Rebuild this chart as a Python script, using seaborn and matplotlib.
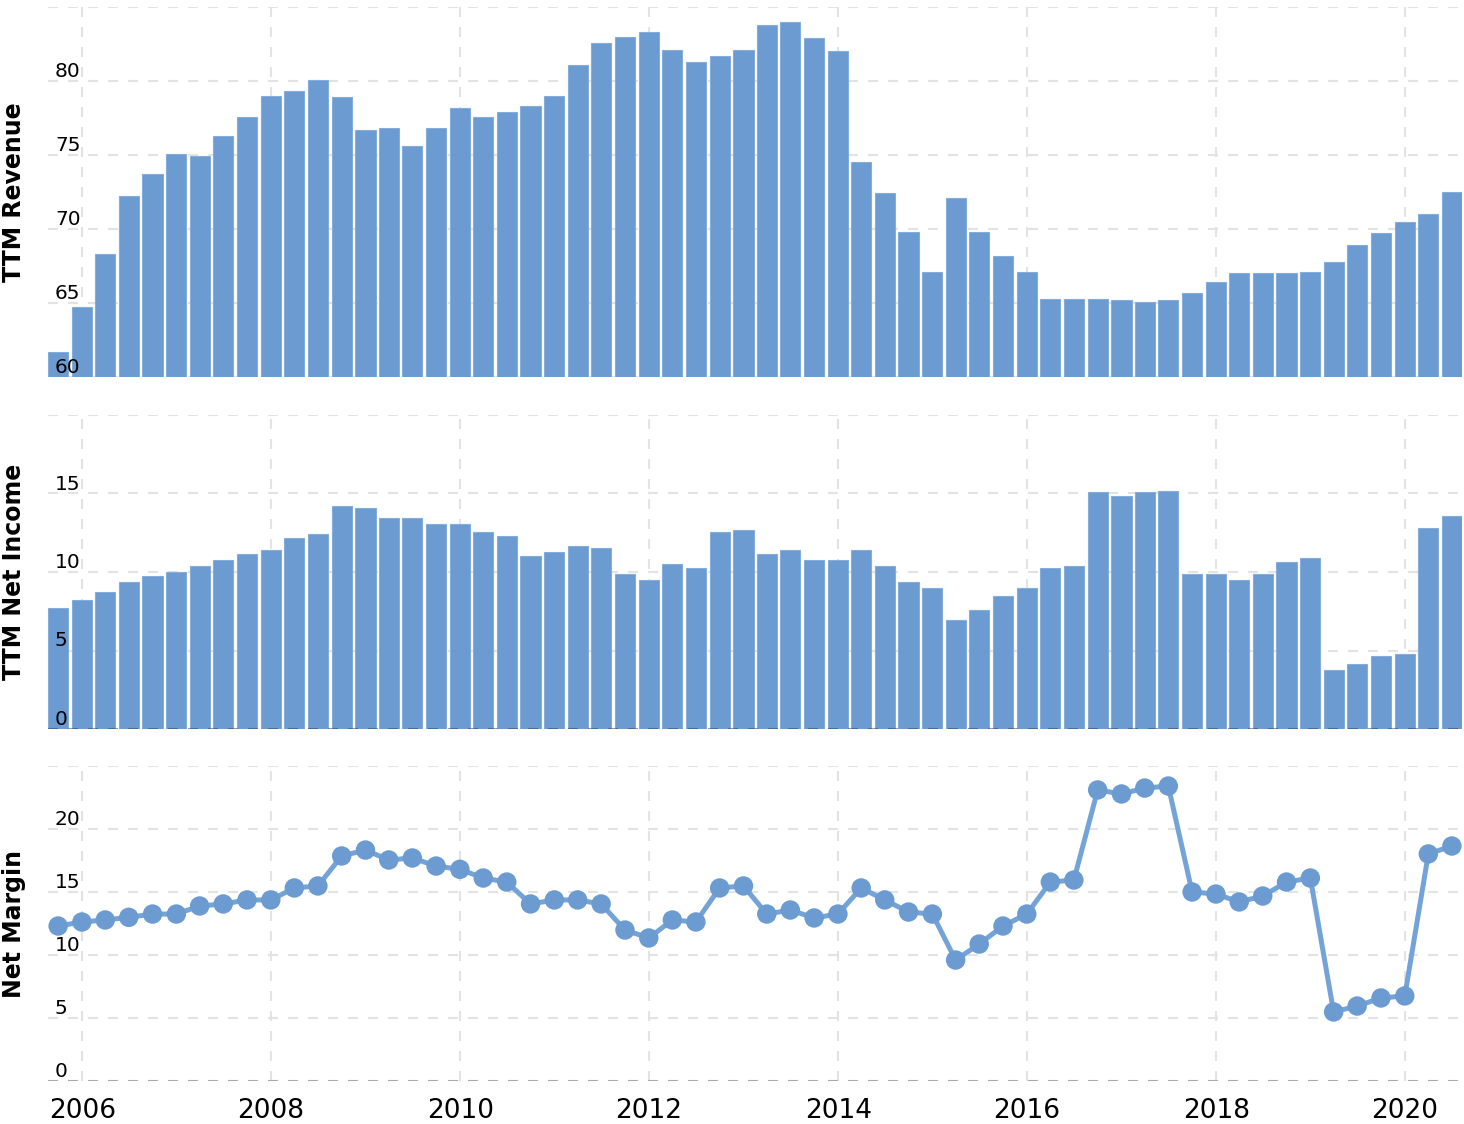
import matplotlib
matplotlib.use("Agg")
import matplotlib.pyplot as plt
import matplotlib.dates as mdates
import matplotlib.transforms as mtrans
import numpy as np
import pandas as pd
import seaborn as sns

quarters = [
    "2005-09-30", "2005-12-31", "2006-03-31", "2006-06-30", "2006-09-30", "2006-12-31",
    "2007-03-31", "2007-06-30", "2007-09-30", "2007-12-31", "2008-03-31", "2008-06-30",
    "2008-09-30", "2008-12-31", "2009-03-31", "2009-06-30", "2009-09-30", "2009-12-31",
    "2010-03-31", "2010-06-30", "2010-09-30", "2010-12-31", "2011-03-31", "2011-06-30",
    "2011-09-30", "2011-12-31", "2012-03-31", "2012-06-30", "2012-09-30", "2012-12-31",
    "2013-03-31", "2013-06-30", "2013-09-30", "2013-12-31", "2014-03-31", "2014-06-30",
    "2014-09-30", "2014-12-31", "2015-03-31", "2015-06-30", "2015-09-30", "2015-12-31",
    "2016-03-31", "2016-06-30", "2016-09-30", "2016-12-31", "2017-03-31", "2017-06-30",
    "2017-09-30", "2017-12-31", "2018-03-31", "2018-06-30", "2018-09-30", "2018-12-31",
    "2019-03-31", "2019-06-30", "2019-09-30", "2019-12-31", "2020-03-31", "2020-06-30",
]

ttm_revenue = [
    61.7, 64.7, 68.3, 72.2, 73.7, 75.1, 74.9, 76.3, 77.6, 79.0,
    79.3, 80.1, 78.9, 76.7, 76.8, 75.6, 76.8, 78.2, 77.6, 77.9,
    78.3, 79.0, 81.1, 82.6, 83.0, 83.3, 82.1, 81.3, 81.7, 82.1,
    83.8, 84.0, 82.9, 82.0, 74.5, 72.4, 69.8, 67.1, 72.1, 69.8,
    68.2, 67.1, 65.3, 65.3, 65.3, 65.2, 65.1, 65.2, 65.7, 66.4,
    67.0, 67.0, 67.0, 67.1, 67.8, 68.9, 69.7, 70.5, 71.0, 72.5,
]

ttm_net_income = [
    7.70, 8.20, 8.71, 9.35, 9.73, 9.98, 10.36, 10.74, 11.13, 11.38,
    12.14, 12.40, 14.18, 14.05, 13.41, 13.41, 13.03, 13.03, 12.52, 12.27,
    11.00, 11.25, 11.63, 11.50, 9.85, 9.47, 10.49, 10.24, 12.52, 12.65,
    11.13, 11.38, 10.74, 10.74, 11.38, 10.36, 9.35, 8.96, 6.93, 7.57,
    8.46, 8.96, 10.24, 10.36, 15.07, 14.81, 15.07, 15.19, 9.85, 9.85,
    9.47, 9.85, 10.62, 10.87, 3.75, 4.13, 4.64, 4.77, 12.78, 13.54,
]

net_margin = [
    12.30, 12.62, 12.78, 12.99, 13.25, 13.25, 13.89, 14.05, 14.37, 14.37,
    15.32, 15.48, 17.86, 18.33, 17.54, 17.70, 17.06, 16.80, 16.11, 15.79,
    14.05, 14.37, 14.37, 14.05, 11.98, 11.35, 12.78, 12.62, 15.32, 15.48,
    13.25, 13.57, 12.94, 13.25, 15.32, 14.37, 13.41, 13.25, 9.60, 10.87,
    12.30, 13.25, 15.79, 15.95, 23.10, 22.78, 23.25, 23.41, 15.00, 14.84,
    14.21, 14.68, 15.79, 16.11, 5.48, 5.95, 6.59, 6.75, 18.02, 18.65,
]

rev_ticks = [60, 65, 70, 75, 80]
ni_ticks = [0, 5, 10, 15]
nm_ticks = [0, 5, 10, 15, 20]

sns.set_style("white")
plt.rcParams["font.family"] = ["DejaVu Sans"]
plt.rcParams["lines.scale_dashes"] = False

BLUE = "#6b9bd1"
EDGE = "#84addc"
LINE = "#74a3d7"
GRID = "#e3e3e3"
DASH = (0, (7.2, 7.2))

dates = pd.to_datetime(quarters)
xnum = mdates.date2num(dates)
df = pd.DataFrame({"x": xnum, "rev": ttm_revenue, "ni": ttm_net_income, "nm": net_margin})

W = 1464.0
H = 1124.0
fig = plt.figure(figsize=(W / 100, H / 100), dpi=100)
left = 48 / W
width = (1462 - 48) / W
ax1 = fig.add_axes([left, 1 - 377 / H, width, (377 - 7) / H])
ax2 = fig.add_axes([left, 1 - 729 / H, width, (729 - 415) / H])
ax3 = fig.add_axes([left, 1 - 1081 / H, width, (1081 - 766) / H])

bar_w = 0.87
sns.barplot(data=df, x="x", y="rev", native_scale=True, width=bar_w, color=BLUE,
            saturation=1, edgecolor=EDGE, linewidth=0.8, errorbar=None, ax=ax1, zorder=2)
sns.barplot(data=df, x="x", y="ni", native_scale=True, width=bar_w, color=BLUE,
            saturation=1, edgecolor=EDGE, linewidth=0.8, errorbar=None, ax=ax2, zorder=2)
sns.lineplot(data=df, x="x", y="nm", color=LINE, linewidth=3.6, ax=ax3, zorder=3)
sns.scatterplot(data=df, x="x", y="nm", color=BLUE, s=14 ** 2, edgecolor="none",
                linewidth=0, ax=ax3, zorder=4)

half = bar_w * 90 / 2.0
xlim = (xnum[0] - half, xnum[-1] + half)

panels = [(ax1, (60, 85), rev_ticks + [85], rev_ticks, "TTM Revenue", 192),
          (ax2, (0, 20), ni_ticks + [20], ni_ticks, "TTM Net Income", 572),
          (ax3, (0, 25), nm_ticks + [25], nm_ticks, "Net Margin", 923.5)]

for ax, ylim, grid_ticks, lab_ticks, ylabel, ycen in panels:
    ax.set_xlim(*xlim)
    ax.set_ylim(*ylim)
    ax.set_yticks(grid_ticks)
    ax.xaxis.set_major_locator(mdates.YearLocator(2))
    ax.xaxis.set_major_formatter(mdates.DateFormatter("%Y"))
    ax.set_axisbelow(True)
    ax.grid(True, color=GRID, linestyle=DASH, linewidth=1.5)
    for s in ax.spines.values():
        s.set_visible(False)
    ax.tick_params(axis="both", length=0)
    ax.tick_params(axis="y", labelleft=False)
    ax.set_xlabel("")
    ax.set_ylabel("")
    trans = mtrans.blended_transform_factory(ax.transAxes, ax.transData) + \
        mtrans.ScaledTranslation(7 / 100, 4 / 100, fig.dpi_scale_trans)
    for t in lab_ticks:
        ax.text(0, t, f"{t}", transform=trans, ha="left", va="baseline",
                fontsize=14.5, color="black", zorder=10)
    fig.text(14 / W, 1 - ycen / H, ylabel, rotation=90, ha="center", va="center",
             fontsize=17, fontweight="bold", color="black")

ax1.tick_params(axis="x", labelbottom=False)
ax2.tick_params(axis="x", labelbottom=False)
ax3.tick_params(axis="x", labelsize=19, pad=12, colors="black")

ax2.axhline(0, color="black", alpha=0.3, linestyle=DASH, linewidth=1.5, zorder=5)
ax3.axhline(0, color="black", alpha=0.25, linestyle=DASH, linewidth=1.5, zorder=1)

fig.savefig("out.png", dpi=100)
